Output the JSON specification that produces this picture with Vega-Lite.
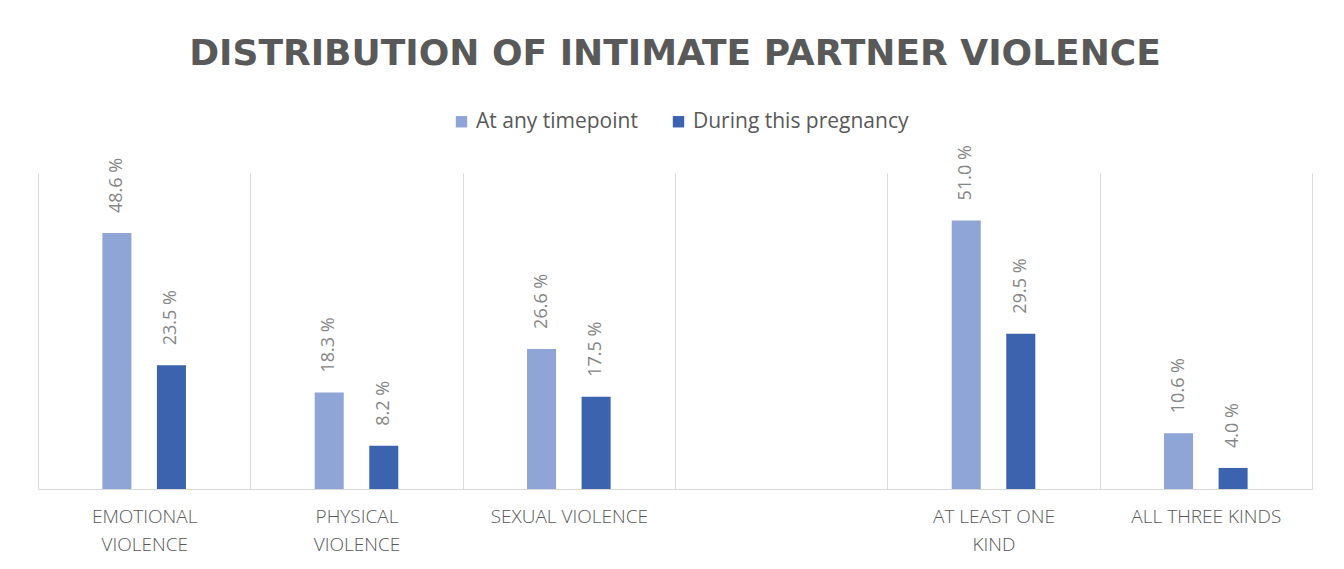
{
  "$schema": "https://vega.github.io/schema/vega-lite/v6.json",
  "width": 1274,
  "height": 316,
  "autosize": {"type": "none"},
  "padding": {"left": 38, "top": 173, "right": 32, "bottom": 80},
  "background": "white",
  "title": {
    "text": "DISTRIBUTION OF INTIMATE PARTNER VIOLENCE",
    "font": "DejaVu Sans",
    "fontSize": 36,
    "fontWeight": "bold",
    "color": "#595959",
    "anchor": "middle",
    "offset": 38
  },
  "config": {"view": {"stroke": null}},
  "data": {
    "values": [
      {"category": "EMOTIONAL VIOLENCE", "series": "At any timepoint", "value": 48.6},
      {"category": "EMOTIONAL VIOLENCE", "series": "During this pregnancy", "value": 23.5},
      {"category": "PHYSICAL VIOLENCE", "series": "At any timepoint", "value": 18.3},
      {"category": "PHYSICAL VIOLENCE", "series": "During this pregnancy", "value": 8.2},
      {"category": "SEXUAL VIOLENCE", "series": "At any timepoint", "value": 26.6},
      {"category": "SEXUAL VIOLENCE", "series": "During this pregnancy", "value": 17.5},
      {"category": "AT LEAST ONE KIND", "series": "At any timepoint", "value": 51.0},
      {"category": "AT LEAST ONE KIND", "series": "During this pregnancy", "value": 29.5},
      {"category": "ALL THREE KINDS", "series": "At any timepoint", "value": 10.6},
      {"category": "ALL THREE KINDS", "series": "During this pregnancy", "value": 4.0}
    ]
  },
  "transform": [
    {"calculate": "format(datum.value, '.1f') + ' %'", "as": "label"}
  ],
  "encoding": {
    "x": {
      "field": "category",
      "type": "nominal",
      "sort": null,
      "scale": {
        "domain": ["EMOTIONAL VIOLENCE", "PHYSICAL VIOLENCE", "SEXUAL VIOLENCE", " ", "AT LEAST ONE KIND", "ALL THREE KINDS"],
        "paddingInner": 0,
        "paddingOuter": 0
      },
      "axis": {
        "title": null,
        "labelAngle": 0,
        "tickBand": "extent",
        "ticks": false,
        "grid": true,
        "gridColor": "#d9d9d9",
        "gridWidth": 1,
        "domainColor": "#d9d9d9",
        "domainWidth": 1,
        "labelFont": "Open Sans",
        "labelFontSize": 19,
        "labelFontWeight": 300,
        "labelColor": "#595959",
        "labelPadding": 18,
        "labelLineHeight": 28,
        "labelExpr": "datum.value == 'EMOTIONAL VIOLENCE' ? ['EMOTIONAL', 'VIOLENCE'] : datum.value == 'PHYSICAL VIOLENCE' ? ['PHYSICAL', 'VIOLENCE'] : datum.value == 'AT LEAST ONE KIND' ? ['AT LEAST ONE', 'KIND'] : datum.value"
      }
    },
    "xOffset": {
      "field": "series",
      "type": "nominal",
      "scale": {
        "domain": ["_a", "At any timepoint", "During this pregnancy", "_b"],
        "paddingInner": 0.468,
        "paddingOuter": 0.18
      }
    },
    "y": {
      "field": "value",
      "type": "quantitative",
      "scale": {"domain": [0, 60]},
      "axis": null
    }
  },
  "layer": [
    {
      "mark": {"type": "bar"},
      "encoding": {
        "color": {
          "field": "series",
          "type": "nominal",
          "scale": {"domain": ["At any timepoint", "During this pregnancy"], "range": ["#8fa5d6", "#3b63ae"]},
          "legend": {
            "title": null,
            "orient": "none",
            "legendX": 413,
            "legendY": -62,
            "direction": "horizontal",
            "symbolType": "square",
            "symbolSize": 130,
            "symbolStrokeWidth": 0,
            "labelFont": "Open Sans",
            "labelFontSize": 21,
            "labelColor": "#595959",
            "labelLimit": 400,
            "columnPadding": 30
          }
        }
      }
    },
    {
      "mark": {
        "type": "text",
        "angle": 270,
        "align": "left",
        "baseline": "middle",
        "dx": 20,
        "font": "Open Sans",
        "fontSize": 18,
        "color": "#868686"
      },
      "encoding": {
        "text": {"field": "label"}
      }
    }
  ]
}
